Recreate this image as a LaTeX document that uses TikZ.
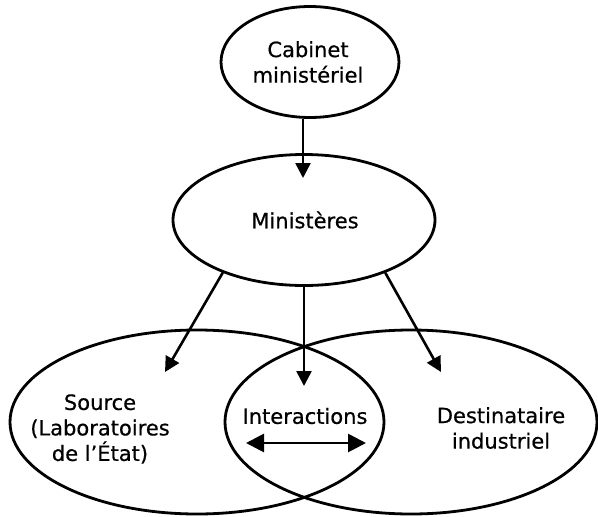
\documentclass[tikz,border=0pt]{standalone}
\usepackage{fontspec}
\setmainfont{DejaVu Sans}
\newfontfamily\lblfont{DejaVu Sans}[FakeBold=0.6]
\usetikzlibrary{shapes.geometric,arrows.meta}
\begin{document}
\begin{tikzpicture}[x=1pt,y=-1pt,
  oval/.style={draw, ellipse, line width=2.8pt, inner sep=0pt},
  lbl/.style={align=center, font=\lblfont\fontsize{21}{25.5}\selectfont, inner sep=0pt},
  arr/.style={line width=2.6pt, -{Triangle[length=15pt,width=15pt]}},
  dbl/.style={line width=2.8pt, {Triangle[length=18pt,width=18pt]}-{Triangle[length=18pt,width=18pt]}}]
\useasboundingbox (0,0) rectangle (598,517);
% ellipses
\node[oval, minimum width=178pt, minimum height=111pt] (cab) at (310,62) {};
\node[oval, minimum width=262pt, minimum height=131pt] (min) at (304,220) {};
\node[oval, minimum width=374pt, minimum height=184pt] (src) at (197,422) {};
\node[oval, minimum width=372pt, minimum height=184pt] (dst) at (411,422) {};
% texts
\node[lbl] (tcab) at (308,62) {Cabinet\\ministériel};
\node[lbl] (tmin) at (305,220) {Ministères};
\node[lbl] (tsrc) at (100,429) {Source\\(Laboratoires\\de l’État)};
\node[lbl] (tdst) at (501,428) {Destinataire\\industriel};
\node[lbl] (tint) at (305,416) {Interactions};
% arrow ends
\coordinate (t1) at (303,178);
\coordinate (tl) at (165,372);
\coordinate (tm) at (304,386);
\coordinate (tr) at (441,372);
\coordinate (dl) at (246,443);
\coordinate (dr) at (366,443);
% connectors
\draw[arr] (cab.south -| t1) -- (t1);
\draw[arr] (min.213) -- (tl);
\draw[arr] (min.south) -- (tm);
\draw[arr] (min.327) -- (tr);
\draw[dbl] (dl) -- (dr);
\end{tikzpicture}
\end{document}
